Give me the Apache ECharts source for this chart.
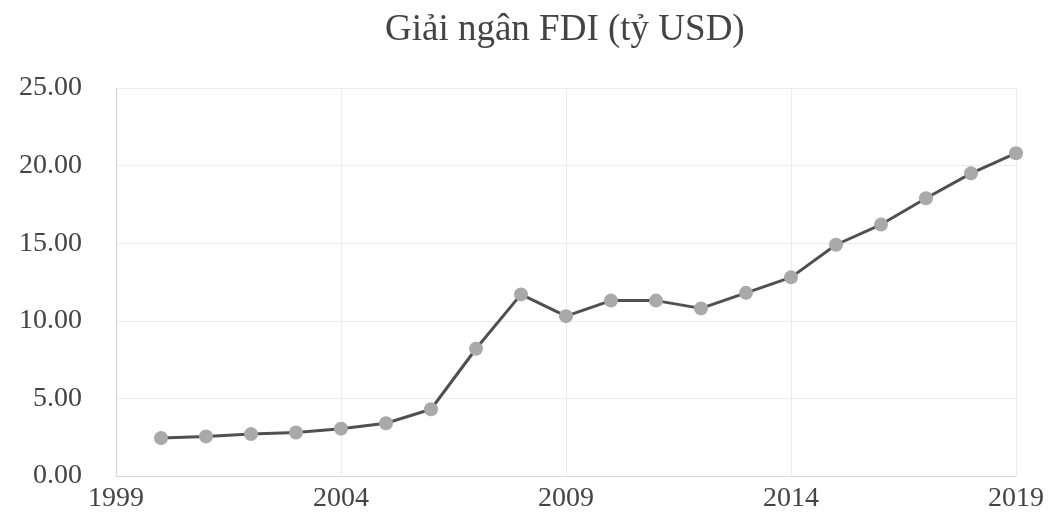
<!DOCTYPE html>
<html><head><meta charset="utf-8">
<script src="https://cdn.jsdelivr.net/npm/echarts@6/dist/echarts.min.js"></script>
<style>html,body{margin:0;padding:0;background:#fff}#c{width:1059px;height:522px}</style>
</head><body><div id="c"></div>
<script>
const years = [2000,2001,2002,2003,2004,2005,2006,2007,2008,2009,2010,2011,2012,2013,2014,2015,2016,2017,2018,2019];
const disbursed = [2.45,2.55,2.7,2.8,3.05,3.4,4.3,8.2,11.7,10.3,11.3,11.3,10.8,11.8,12.8,14.9,16.2,17.9,19.5,20.8];
const titleText = 'Giải ngân FDI (tỷ USD)';
const xTicks = [1999, 2019, 5];
const yTicks = [0, 25, 5];

const chart = echarts.init(document.getElementById('c'));
const font = 'Liberation Serif';
chart.setOption({
  backgroundColor: '#fff',
  animation: false,
  title: {text: titleText, left: 380, top: 7,
    textStyle: {fontFamily: font, fontSize: 37, fontWeight: 'normal', color: '#444'}},
  grid: {left: 116, right: 43, top: 88, bottom: 46},
  xAxis: {type: 'value', min: xTicks[0], max: xTicks[1], interval: xTicks[2],
    axisLine: {show: true, lineStyle: {color: '#d4d4d4', width: 1}},
    axisTick: {show: false},
    splitLine: {show: true, lineStyle: {color: '#ececec', width: 1}},
    axisLabel: {formatter: v => String(v), fontFamily: font, fontSize: 28, color: '#444', margin: 9}},
  yAxis: {type: 'value', min: yTicks[0], max: yTicks[1], interval: yTicks[2],
    axisLine: {show: true, lineStyle: {color: '#d4d4d4', width: 1}},
    axisTick: {show: false},
    splitLine: {show: true, lineStyle: {color: '#ececec', width: 1}},
    axisLabel: {formatter: v => v.toFixed(2), fontFamily: font, fontSize: 28, color: '#444', margin: 34}},
  series: [{type: 'line', data: years.map((y, i) => [y, disbursed[i]]),
    lineStyle: {color: '#505050', width: 3},
    symbol: 'circle', symbolSize: 14,
    itemStyle: {color: '#a9a9a9', borderWidth: 0}}]
});
</script></body></html>
